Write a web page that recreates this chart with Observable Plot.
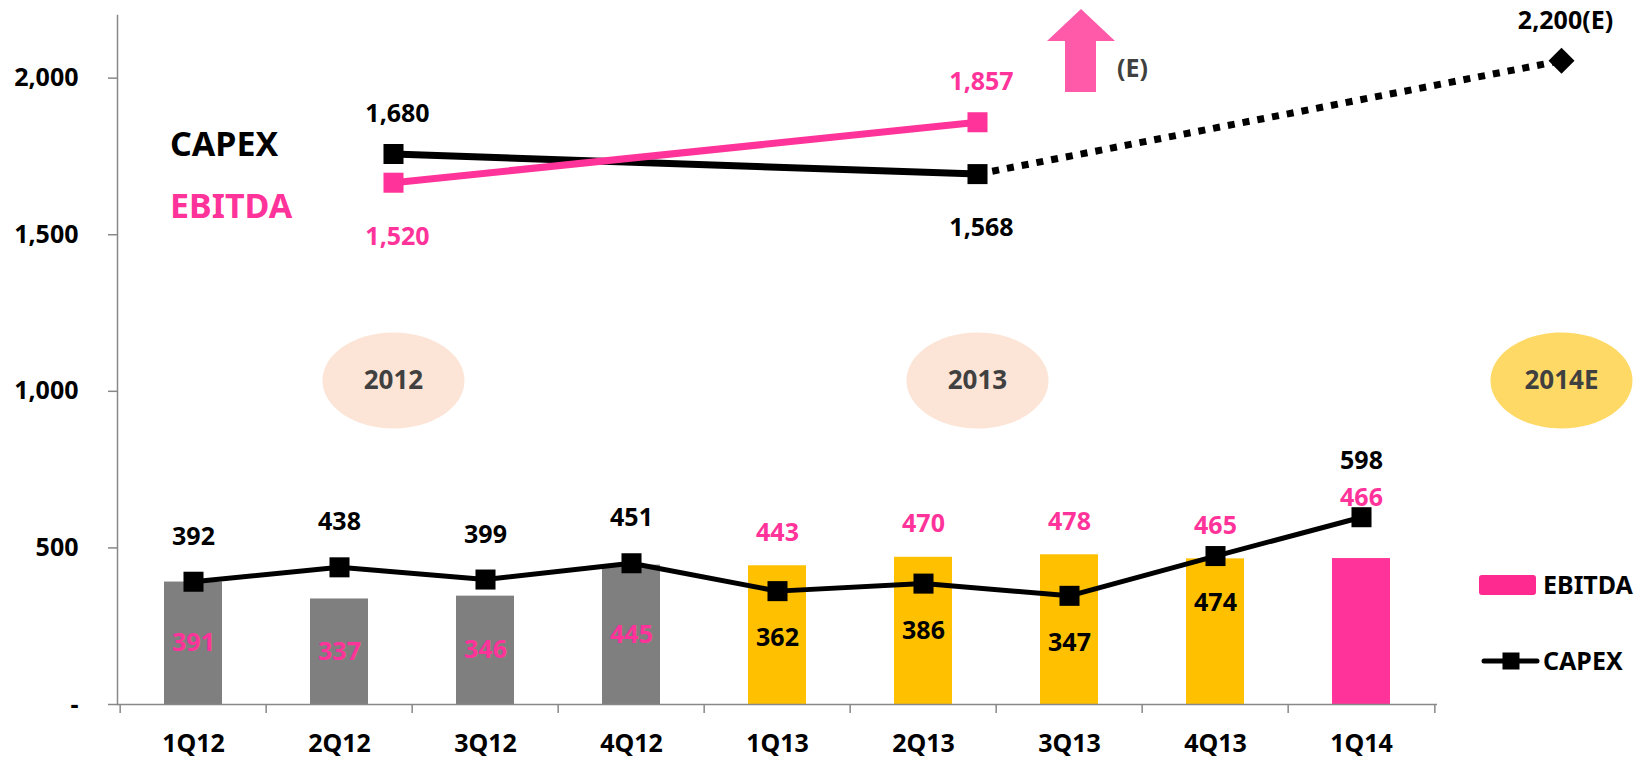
<!DOCTYPE html>
<html><head><meta charset="utf-8">
<script src="https://cdn.jsdelivr.net/npm/d3@7"></script>
<script src="https://cdn.jsdelivr.net/npm/@observablehq/plot@0.6"></script>
<style>
body{margin:0;background:#fff;}
#wrap{position:relative;width:1646px;height:760px;font-family:"Noto Sans",sans-serif;}
#wrap svg{position:absolute;left:0;top:0;overflow:visible;}
</style></head><body><div id="wrap"></div>
<script>
// ---- data ----
const quarters = ["1Q12","2Q12","3Q12","4Q12","1Q13","2Q13","3Q13","4Q13","1Q14"];
const capex = [392, 438, 399, 451, 362, 386, 347, 474, 598];
const ebitda = [391, 337, 346, 445, 443, 470, 478, 465, 466];
const quarterYear = ["2012","2012","2012","2012","2013","2013","2013","2013","2014"];
const yTicks = [0, 500, 1000, 1500, 2000];
const annualYears = ["2012","2013","2014E"];
const annualCapex = [1680, 1568, 2200];
const annualEbitda = [1520, 1857, null];
const seriesNames = ["CAPEX","EBITDA"];

// ---- layout / style ----
const W = 1646, H = 760;
const X0 = 117, X1 = 1437;
const step = (X1 - X0) / quarters.length;
const FONT = '"Noto Sans", sans-serif';
const PINK = "#ff3399";
const AXIS = "#888888";
const barColor = {"2012": "#7f7f7f", "2013": "#ffc000", "2014": "#ff3399"};
const fmt = d3.format(",");
const T = {fontSize: 25, fontWeight: "bold"};

const rows = quarters.map((q, i) => ({q, capex: capex[i], ebitda: ebitda[i], year: quarterYear[i]}));
const wrap = document.getElementById("wrap");

const main = Plot.plot({
  width: W, height: H,
  marginLeft: X0, marginRight: W - X1, marginTop: 15, marginBottom: 56,
  style: {fontFamily: FONT, background: "transparent", color: "black", overflow: "visible"},
  x: {type: "band", domain: quarters, paddingInner: 0.6, paddingOuter: 0.3},
  y: {domain: [0, 2200]},
  marks: [
    Plot.barY(rows, {x: "q", y: "ebitda", fill: d => barColor[d.year]}),
    Plot.frame({anchor: "left", stroke: AXIS, strokeWidth: 1.5}),
    Plot.ruleY([0], {stroke: AXIS, strokeWidth: 1.5}),
    Plot.axisY({ticks: yTicks, tickFormat: d => d === 0 ? "-" : fmt(d), tickSize: 9, tickPadding: 30,
      stroke: AXIS, strokeWidth: 1.5, fill: "black", label: null, ...T}),
    Plot.axisX({tickSize: 9, tickFormat: () => "", dx: -step / 2, stroke: AXIS, strokeWidth: 1.5, label: null}),
    Plot.axisX({ticks: [quarters[quarters.length - 1]], tickSize: 9, tickFormat: () => "", dx: step / 2,
      stroke: AXIS, strokeWidth: 1.5, label: null}),
    Plot.axisX({tickSize: 0, tickPadding: 30, fill: "black", label: null, ...T}),
    // 2012 EBITDA labels inside bars
    Plot.text(rows, {filter: d => d.year === "2012", x: "q", y: d => d.ebitda / 2, text: d => fmt(d.ebitda), fill: PINK, ...T}),
    // CAPEX line
    Plot.lineY(rows, {x: "q", y: "capex", stroke: "black", strokeWidth: 5}),
    Plot.dot(rows, {x: "q", y: "capex", symbol: "square", r: 11.3, fill: "black"}),
    Plot.text(rows, {filter: d => d.year === "2012", x: "q", y: "capex", text: d => fmt(d.capex), dy: -45, fill: "black", ...T}),
    Plot.text(rows, {filter: d => d.year === "2013", x: "q", y: "ebitda", text: d => fmt(d.ebitda), dy: -33, fill: PINK, ...T}),
    Plot.text(rows, {filter: d => d.year === "2013", x: "q", y: "capex", text: d => fmt(d.capex), dy: 47, fill: "black", ...T}),
    Plot.text(rows, {filter: d => d.year === "2014", x: "q", y: "ebitda", text: d => fmt(d.ebitda), dy: -61, fill: PINK, ...T}),
    Plot.text(rows, {filter: d => d.year === "2014", x: "q", y: "capex", text: d => fmt(d.capex), dy: -56, fill: "black", ...T})
  ]
});
wrap.appendChild(main);

// ---- annual overlay (own scale) ----
const annual = annualYears.map((y, i) => ({year: y, capex: annualCapex[i], ebitda: annualEbitda[i]}));
const ay = v => 454.9 - 0.1794 * v;
const ellipse = {draw(ctx) {
  const rx = 71, ry = 48, k = 0.5523;
  ctx.moveTo(rx, 0);
  ctx.bezierCurveTo(rx, ry * k, rx * k, ry, 0, ry);
  ctx.bezierCurveTo(-rx * k, ry, -rx, ry * k, -rx, 0);
  ctx.bezierCurveTo(-rx, -ry * k, -rx * k, -ry, 0, -ry);
  ctx.bezierCurveTo(rx * k, -ry, rx, -ry * k, rx, 0);
  ctx.closePath();
}};
const labelA = d => fmt(d.capex) + (d.year === "2014E" ? "(E)" : "");
const withE = annual.filter(d => d.ebitda != null);
const ann = Plot.plot({
  width: W, height: H, margin: 0,
  style: {fontFamily: FONT, background: "transparent", overflow: "visible"},
  x: {type: "point", domain: annualYears, range: [392, 1561], padding: 0, axis: null},
  y: {domain: [1500, 2200], range: [ay(1500), ay(2200)], axis: null},
  marks: [
    Plot.dot(annualYears, {x: d => d, symbol: ellipse, fill: d => d === "2014E" ? "#ffd966" : "#fce4d6", stroke: "none"}),
    Plot.text(annualYears, {x: d => d, text: d => d, fill: "#404040", fontSize: 26, fontWeight: "bold"}),
    Plot.line(annual.slice(1, 3), {x: "year", y: "capex", stroke: "black", strokeWidth: 7, strokeDasharray: "7,8", strokeLinecap: "butt"}),
    Plot.line(annual.slice(0, 2), {x: "year", y: "capex", stroke: "black", strokeWidth: 7}),
    Plot.line(withE, {x: "year", y: "ebitda", stroke: PINK, strokeWidth: 7}),
    Plot.dot(annual.slice(0, 2), {x: "year", y: "capex", symbol: "square", r: 11.3, fill: "black"}),
    Plot.dot(annual.slice(2), {x: "year", y: "capex", symbol: "diamond2", r: 11.7, fill: "black", stroke: "none"}),
    Plot.dot(withE, {x: "year", y: "ebitda", symbol: "square", r: 11.3, fill: PINK}),
    Plot.text(annual, {filter: d => d.year !== "2013", x: "year", y: "capex", text: labelA, dy: -40, dx: 4, fill: "black", ...T}),
    Plot.text(annual, {filter: d => d.year === "2013", x: "year", y: "capex", text: labelA, dy: 54, dx: 4, fill: "black", ...T}),
    Plot.text(withE, {filter: d => d.year === "2013", x: "year", y: "ebitda", text: d => fmt(d.ebitda), dy: -40, dx: 4, fill: PINK, ...T}),
    Plot.text(withE, {filter: d => d.year === "2012", x: "year", y: "ebitda", text: d => fmt(d.ebitda), dy: 54, dx: 4, fill: PINK, ...T})
  ]
});
wrap.appendChild(ann);

// ---- annotations & legend ----
const deco = d3.create("svg").attr("width", W).attr("height", H)
  .style("font-family", FONT).style("font-weight", "bold");
deco.append("path").attr("d", "M1081,9 L1115,41 L1096,41 L1096,92 L1065,92 L1065,41 L1047,41 Z").attr("fill", "#ff5aaa");
deco.append("text").attr("x", 1117).attr("y", 77).attr("font-size", 25).attr("fill", "#404040").text("(E)");
deco.append("text").attr("x", 170).attr("y", 156).attr("font-size", 34).attr("fill", "black").text(seriesNames[0]);
deco.append("text").attr("x", 170).attr("y", 218).attr("font-size", 34).attr("fill", PINK).text(seriesNames[1]);
// legend
deco.append("rect").attr("x", 1479).attr("y", 575).attr("width", 57).attr("height", 20).attr("rx", 3).attr("fill", "#ff2a8f");
deco.append("text").attr("x", 1543).attr("y", 594).attr("font-size", 25).attr("fill", "black").text(seriesNames[1]);
deco.append("line").attr("x1", 1484).attr("x2", 1537).attr("y1", 661).attr("y2", 661)
  .attr("stroke", "black").attr("stroke-width", 5).attr("stroke-linecap", "round");
deco.append("rect").attr("x", 1502.5).attr("y", 652.5).attr("width", 17).attr("height", 17).attr("fill", "black");
deco.append("text").attr("x", 1543).attr("y", 670).attr("font-size", 25).attr("fill", "black").text(seriesNames[0]);
wrap.appendChild(deco.node());
</script></body></html>
